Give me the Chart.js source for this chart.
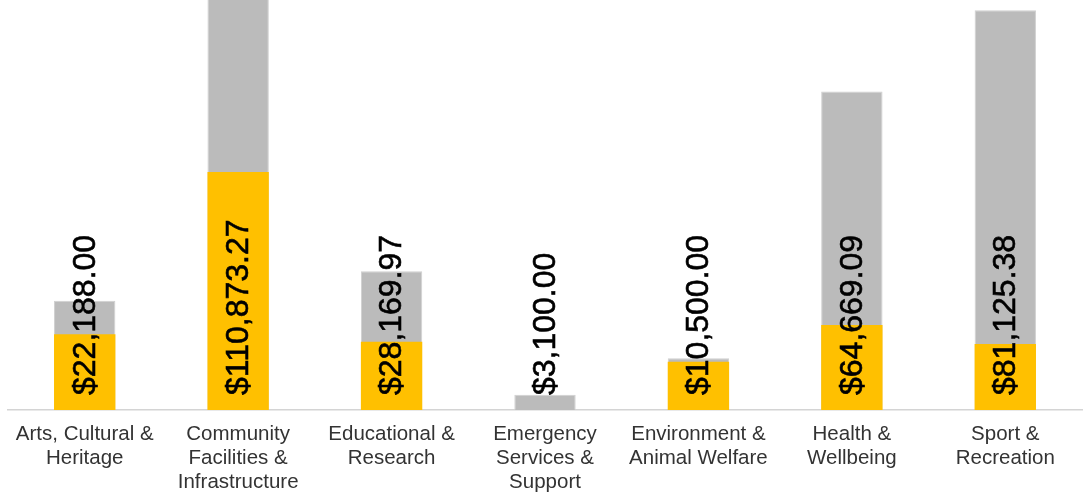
<!DOCTYPE html>
<html>
<head>
<meta charset="utf-8">
<script src="https://cdn.jsdelivr.net/npm/chart.js@4"></script>
<style>
  html, body { margin: 0; padding: 0; background: #fff; }
  #wrap { width: 1084px; height: 492px; }
</style>
</head>
<body>
<div id="wrap"><canvas id="chart"></canvas></div>
<script>
const categories = [
  ['Arts, Cultural &', 'Heritage'],
  ['Community', 'Facilities &', 'Infrastructure'],
  ['Educational &', 'Research'],
  ['Emergency', 'Services &', 'Support'],
  ['Environment &', 'Animal Welfare'],
  ['Health &', 'Wellbeing'],
  ['Sport &', 'Recreation']
];
// gray bars (labelled amounts)
const requested = [22188.00, 110873.27, 28169.97, 3100.00, 10500.00, 64669.09, 81125.38];
// yellow bars
const funded = [15400, 48300, 13870, 0, 9800, 17260, 13400];
const yMax = 83230;

const money = v => '$' + v.toLocaleString('en-US', {minimumFractionDigits: 2, maximumFractionDigits: 2});

const valueLabels = {
  id: 'valueLabels',
  afterDatasetsDraw(chart) {
    const ctx = chart.ctx;
    const meta = chart.getDatasetMeta(1);
    ctx.save();
    ctx.font = '32px "Liberation Sans", Arial, sans-serif';
    ctx.fillStyle = '#000';
    ctx.strokeStyle = '#000';
    ctx.lineWidth = 0.6;
    ctx.textAlign = 'left';
    ctx.textBaseline = 'middle';
    meta.data.forEach((bar, i) => {
      ctx.save();
      ctx.translate(bar.x + 1, bar.base - 15);
      ctx.rotate(-Math.PI / 2);
      ctx.fillText(money(requested[i]), 0, 0);
      ctx.strokeText(money(requested[i]), 0, 0);
      ctx.restore();
    });
    ctx.restore();
  }
};

new Chart(document.getElementById('chart'), {
  type: 'bar',
  data: {
    labels: categories,
    datasets: [
      {
        label: 'Funded',
        data: funded,
        backgroundColor: '#FFC000',
        grouped: false,
        barPercentage: 0.4,
        categoryPercentage: 1
      },
      {
        label: 'Requested',
        data: requested,
        backgroundColor: '#BBBBBB',
        borderColor: '#D0D0D0',
        borderWidth: 1,
        grouped: false,
        barPercentage: 0.4,
        categoryPercentage: 1
      }
    ]
  },
  plugins: [valueLabels],
  options: {
    responsive: true,
    maintainAspectRatio: false,
    animation: false,
    layout: { padding: { left: 8, right: 2, top: 0, bottom: 0 } },
    plugins: {
      legend: { display: false },
      tooltip: { enabled: false }
    },
    scales: {
      x: {
        grid: { display: false, drawTicks: false },
        border: { display: true, color: '#D4D4D4', width: 1.5 },
        ticks: {
          color: '#333333',
          font: { family: '"Liberation Sans", Arial, sans-serif', size: 20.5, lineHeight: 1.17 },
          padding: 12,
          maxRotation: 0,
          autoSkip: false
        },
        afterFit(scale) { scale.height = 82; }
      },
      y: {
        display: false,
        min: 0,
        max: yMax
      }
    }
  }
});
</script>
</body>
</html>
